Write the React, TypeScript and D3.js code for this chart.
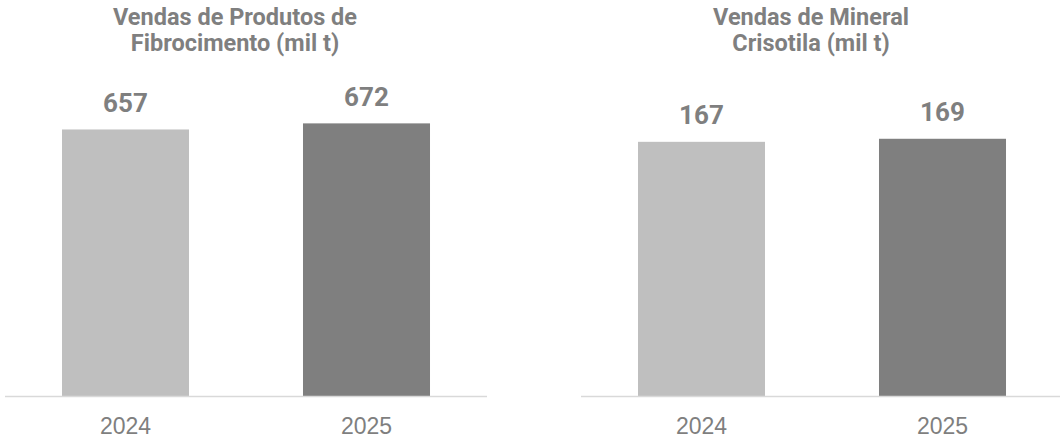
import React from 'react';
import * as d3 from 'd3';

const years = ['2024', '2025'];
const fibroValues = [657, 672];
const crisotilaValues = [167, 169];
const fibroTitle = ['Vendas de Produtos de', 'Fibrocimento (mil t)'];
const crisotilaTitle = ['Vendas de Mineral', 'Crisotila (mil t)'];

const width = 1060;
const height = 439;
const baseline = 396.5;
const barColors = ['#bfbfbf', '#7f7f7f'];
const textColor = '#7f7f7f';

type PanelProps = {
  x0: number;
  x1: number;
  top: number;
  yMax: number;
  values: number[];
  title: string[];
};

function Panel({ x0, x1, top, yMax, values, title }: PanelProps) {
  const x = d3.scaleBand<string>()
    .domain(years)
    .range([x0, x1])
    .paddingInner(0.473)
    .paddingOuter(0.2365);

  const y = d3.scaleLinear()
    .domain([0, yMax])
    .range([baseline, top]);

  const titleX = (x0 + x1) / 2 - 11;

  return (
    <g>
      {title.map((line, i) => (
        <text
          key={line}
          x={titleX}
          y={24.5 + i * 26.5}
          textAnchor="middle"
          fontFamily="Roboto"
          fontWeight="bold"
          fontSize={23.5}
          fill={textColor}
        >
          {line}
        </text>
      ))}
      {values.map((v, i) => (
        <rect
          key={years[i]}
          x={x(years[i])}
          y={y(v)}
          width={x.bandwidth()}
          height={baseline - y(v)}
          fill={barColors[i]}
        />
      ))}
      {values.map((v, i) => (
        <text
          key={'v' + years[i]}
          x={(x(years[i]) ?? 0) + x.bandwidth() / 2}
          y={y(v) - 17.5}
          textAnchor="middle"
          fontFamily="Roboto"
          fontWeight="bold"
          fontSize={26}
          fill={textColor}
        >
          {v}
        </text>
      ))}
      <line x1={x0} x2={x1} y1={baseline} y2={baseline} stroke="#d9d9d9" strokeWidth={1.5} />
      {years.map((yr) => (
        <text
          key={'l' + yr}
          x={(x(yr) ?? 0) + x.bandwidth() / 2}
          y={433.5}
          textAnchor="middle"
          fontFamily="Liberation Sans, Arial, sans-serif"
          fontSize={23}
          fill={textColor}
        >
          {yr}
        </text>
      ))}
    </g>
  );
}

export default function App() {
  return (
    <svg
      width={width}
      height={height}
      style={{ position: 'absolute', left: 0, top: 0, background: '#fff' }}
    >
      <Panel x0={5} x1={487} top={112} yMax={700} values={fibroValues} title={fibroTitle} />
      <Panel x0={581} x1={1063} top={122} yMax={180} values={crisotilaValues} title={crisotilaTitle} />
    </svg>
  );
}
